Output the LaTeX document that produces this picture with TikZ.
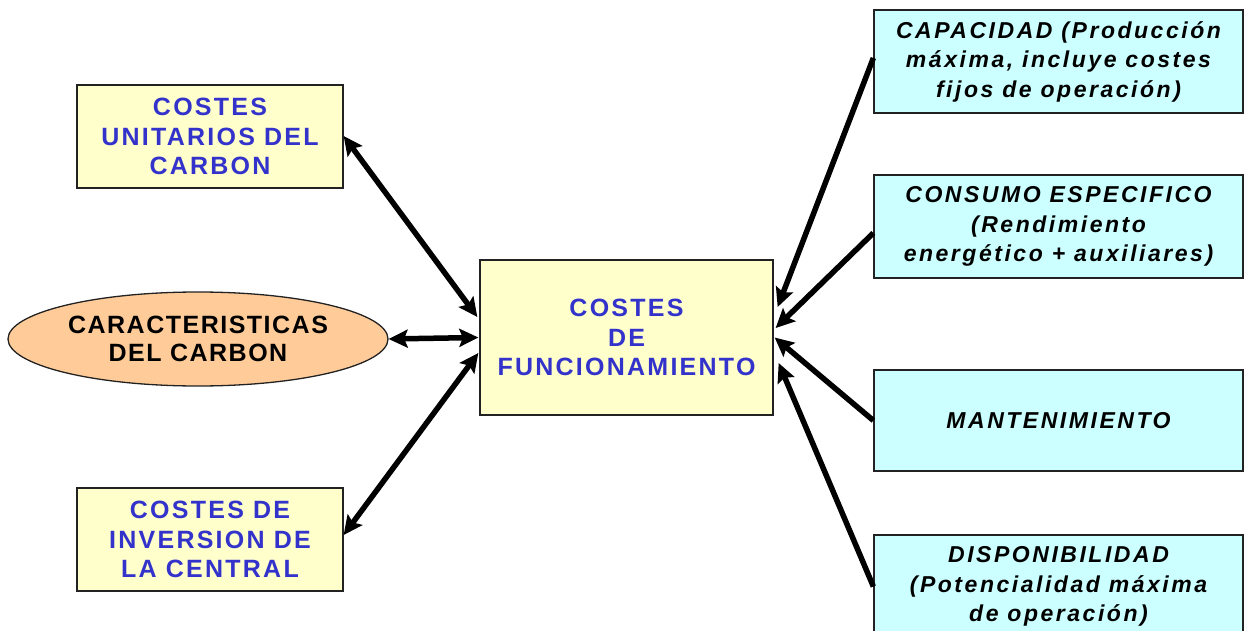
\documentclass[tikz,border=0pt]{standalone}
\usepackage{fontspec}
\setmainfont{Liberation Sans}
\newfontfamily\spfont[LetterSpace=9]{Liberation Sans}
\newfontfamily\spfontb[LetterSpace=6]{Liberation Sans}
\newfontfamily\spfontc[LetterSpace=11]{Liberation Sans}
\usetikzlibrary{arrows.meta,shapes.geometric}
\definecolor{boxyellow}{HTML}{FFFFCC}
\definecolor{boxcyan}{HTML}{CCFFFF}
\definecolor{peach}{HTML}{FFCC99}
\definecolor{txtblue}{HTML}{3333CC}
\definecolor{edge}{HTML}{222222}
\tikzset{
  ybox/.style={draw=edge, line width=1.3pt, fill=boxyellow, minimum width=266pt, minimum height=103pt, inner sep=0pt, align=center, text=txtblue, font=\spfont\bfseries\fontsize{25}{29.5}\selectfont},
  cbox/.style={draw=edge, line width=1.3pt, fill=boxcyan, minimum width=369pt, minimum height=103pt, inner sep=0pt, align=center, text=black, font=\spfontc\bfseries\itshape\fontsize{23}{29.5}\selectfont},
  oval/.style={ellipse, draw=edge, line width=1.3pt, fill=peach, minimum width=380pt, minimum height=94pt, inner sep=0pt, align=center, text=black, font=\spfontb\bfseries\fontsize{25}{28}\selectfont},
  conn/.style={line width=5.5pt, black},
  >={Stealth[length=19pt, width=18pt, inset=3.5pt]}
}
\begin{document}
\begin{tikzpicture}[x=1pt, y=-1pt]
\useasboundingbox[fill=white] (0,0) rectangle (1248,631);
\node[ybox] (unit) at (210,136.5) {COSTES\\UNITARIOS DEL\\CARBON};
\node[ybox] (inv) at (210,539.5) {COSTES DE\\INVERSION DE\\LA CENTRAL};
\node[ybox, minimum width=293pt, minimum height=155pt] (fun) at (626.5,337.5) {COSTES\\DE\\FUNCIONAMIENTO};
\node[oval] (car) at (198,339) {CARACTERISTICAS\\DEL CARBON};
\node[cbox] (cap) at (1058.5,61.5) {CAPACIDAD (Producción\\máxima, incluye costes\\fijos de operación)};
\node[cbox] (con) at (1058.5,226.5) {CONSUMO ESPECIFICO\\(Rendimiento\\energético + auxiliares)};
\node[cbox, minimum height=101pt] (man) at (1058.5,420.5) {MANTENIMIENTO};
\node[cbox] (dis) at (1058.5,586.5) {DISPONIBILIDAD\\(Potencialidad máxima\\de operación)};
% left connectors
\coordinate (uA) at ([yshift=0.5pt]unit.east);
\coordinate (uB) at ([xshift=-2pt,yshift=20.5pt]fun.west);
\coordinate (cA) at ([xshift=-1pt]fun.west);
\coordinate (iA) at ([yshift=4.5pt]inv.east);
\coordinate (iB) at ([xshift=-1pt,yshift=-15.5pt]fun.west);
\draw[conn, <->] (uA) -- (uB);
\draw[conn, <->] (car.east) -- (cA);
\draw[conn, <->] (iA) -- (iB);
% right connectors
\coordinate (f1) at ([xshift=4pt,yshift=30.5pt]fun.east);
\coordinate (f2) at ([xshift=2pt,yshift=9.5pt]fun.east);
\coordinate (f3) at ([xshift=1pt]fun.east);
\coordinate (f4) at ([xshift=5pt,yshift=-25.5pt]fun.east);
\draw[conn, ->] ([yshift=3.5pt]cap.west) -- (f1);
\draw[conn, ->] ([yshift=-6.5pt]con.west) -- (f2);
\draw[conn, ->] (man.west) -- (f3);
\draw[conn, ->] (dis.west) -- (f4);
\end{tikzpicture}
\end{document}
